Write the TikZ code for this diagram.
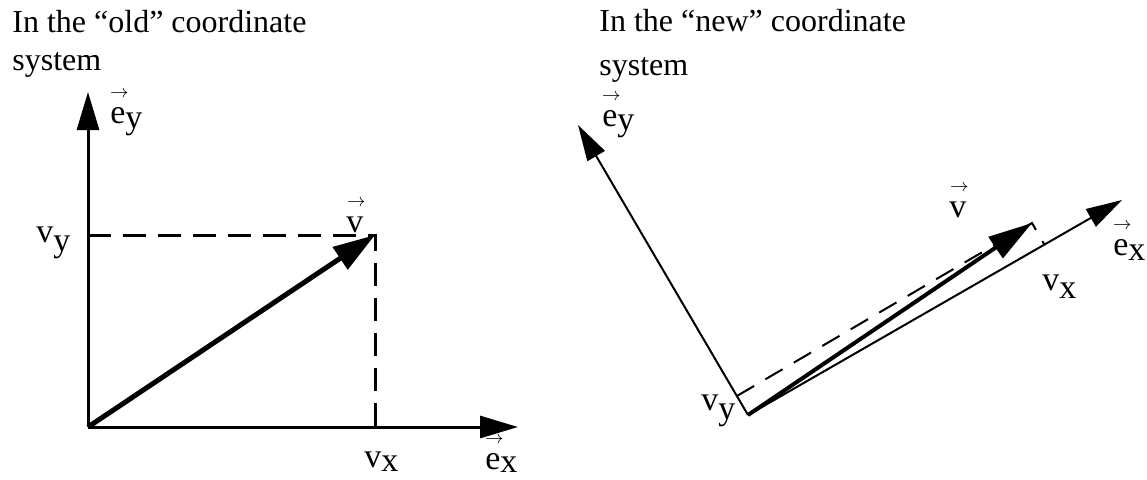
\documentclass[tikz,border=0pt]{standalone}
\usepackage{fontspec}
\setmainfont{Liberation Serif}
\usetikzlibrary{
  arrows.meta,
  calc
}
\newcommand{\arrowover}[1]{\ooalign{#1\cr\hidewidth\kern1.5pt\raisebox{13pt}{\fontsize{9}{9}\selectfont$\rightarrow$}\hidewidth\cr}}
\newcommand{\evec}[2]{\arrowover{e}\raisebox{-#2}{#1}}
\newcommand{\vcomp}[2]{v\raisebox{-#2}{#1}}
\tikzset{
  axis/.style={line width=1.5pt, -{Triangle[length=19pt, width=11pt]}},
  axisnew/.style={line width=1pt, -{Triangle[length=18pt, width=10pt]}},
  vecold/.style={line width=2.5pt, -{Triangle[length=21pt, width=13pt]}},
  vecnew/.style={line width=2pt, -{Triangle[length=22pt, width=12.5pt]}},
  proj/.style={line width=1.5pt, dash pattern=on 11.5pt off 6pt},
  projnew/.style={line width=1pt, dash pattern=on 10pt off 6.5pt},
  lab/.style={anchor=base west, inner sep=0pt, font=\fontsize{17}{17}\selectfont},
  heading/.style={anchor=base west, inner sep=0pt, align=left}
}

\begin{document}
\begin{tikzpicture}[x=0.5pt, y=-0.5pt]
\useasboundingbox (0,0) rectangle (1147,479);

% --- Old coordinate system ---
\node[heading, font=\fontsize{16}{19}\selectfont] (titleold) at (12,70) {In the ``old'' coordinate\\system};

\coordinate (oO) at (88,427);
\coordinate (oEx) at (518,427);
\coordinate (oEy) at (88,92);
\coordinate (oV) at (375,235);
\coordinate (oPy) at (oO |- oV);
\coordinate (oPx) at (oV |- oO);

\draw[axis] (oO) -- (oEx);
\draw[axis] (oO) -- (oEy);
\draw[proj] (oPy) -- (oV) -- (oPx);
\draw[vecold] (oO) -- (oV);

\node[lab] (oEyLab) at (110,123) {\evec{y}{2.5pt}};
\node[lab] (oExLab) at (485,469) {\evec{x}{1.5pt}};
\node[lab] (oVLab) at (346,232) {\arrowover{v}};
\node[lab] (oVyLab) at (36,242) {\vcomp{y}{4.5pt}};
\node[lab] (oVxLab) at (364,467) {\vcomp{x}{2pt}};

% --- New coordinate system ---
\node[heading, font=\fontsize{16}{22}\selectfont] (titlenew) at (599,75) {In the ``new'' coordinate\\system};

\coordinate (nO) at (748,415);
\coordinate (nEx) at (1122,200);
\coordinate (nEy) at (578,125);
\coordinate (nV) at (1032,223);
\coordinate (nPx) at ($(nO)!(nV)!(nEx)$);
\coordinate (nPy) at ($(nO)!(nV)!(nEy)$);

\draw[axisnew] (nO) -- (nEx);
\draw[axisnew] (nO) -- (nEy);
\draw[projnew] (nPy) -- (nV) -- (nPx);
\draw[vecnew] (nO) -- (nV);

\node[lab] (nEyLab) at (602,126) {\evec{y}{2pt}};
\node[lab] (nExLab) at (1113,255) {\evec{x}{2.5pt}};
\node[lab] (nVLab) at (949,217) {\arrowover{v}};
\node[lab] (nVyLab) at (701,410) {\vcomp{y}{4.5pt}};
\node[lab] (nVxLab) at (1042,290) {\vcomp{x}{4pt}};

\end{tikzpicture}
\end{document}
